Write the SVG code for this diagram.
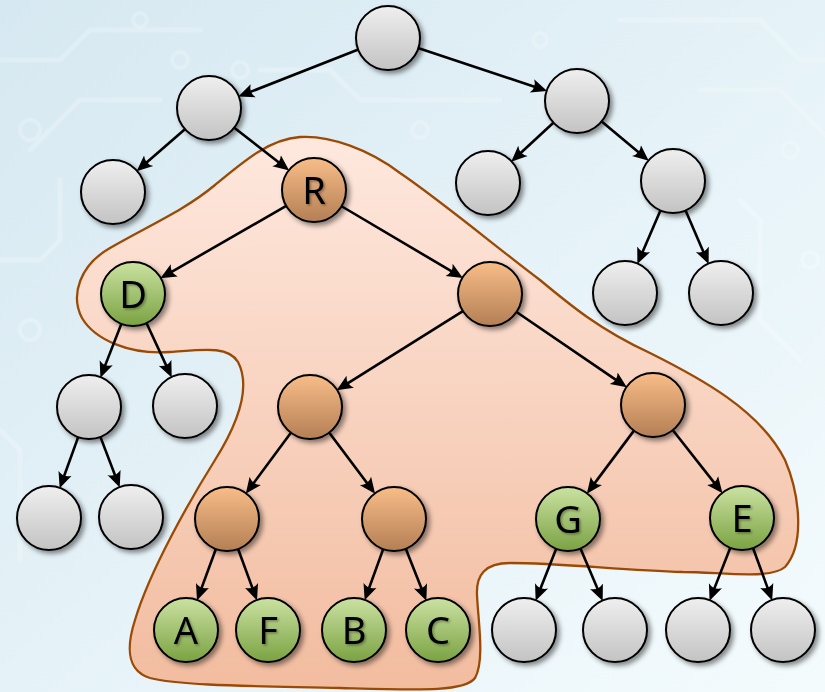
<svg xmlns="http://www.w3.org/2000/svg" width="825" height="692" viewBox="0 0 825 692">
<defs>
<linearGradient id="bg" x1="0" y1="0" x2="1" y2="1">
<stop offset="0" stop-color="#d6e8f1"/>
<stop offset="0.6" stop-color="#e8f4f9"/>
<stop offset="1" stop-color="#f4fbfd"/>
</linearGradient>
<linearGradient id="blob" x1="0" y1="0" x2="0" y2="1">
<stop offset="0" stop-color="#fee8de"/>
<stop offset="1" stop-color="#f2bc9f"/>
</linearGradient>
<linearGradient id="gGray" x1="0" y1="0" x2="0" y2="1">
<stop offset="0" stop-color="#efefef"/>
<stop offset="1" stop-color="#c3c3c3"/>
</linearGradient>
<linearGradient id="gOrange" x1="0" y1="0" x2="0" y2="1">
<stop offset="0" stop-color="#f8bd88"/>
<stop offset="1" stop-color="#b47f55"/>
</linearGradient>
<linearGradient id="gGreen" x1="0" y1="0" x2="0" y2="1">
<stop offset="0" stop-color="#cbe2a2"/>
<stop offset="1" stop-color="#7aa242"/>
</linearGradient>
<filter id="sh" x="-30%" y="-30%" width="170%" height="170%">
<feDropShadow dx="3" dy="3" stdDeviation="2.5" flood-color="#000" flood-opacity="0.45"/>
</filter>
<filter id="tsh" x="-30%" y="-30%" width="170%" height="170%">
<feDropShadow dx="1.5" dy="1.5" stdDeviation="1" flood-color="#000" flood-opacity="0.35"/>
</filter>
<marker id="arr" viewBox="0 -8 18 16" markerWidth="18" markerHeight="16" refX="5" refY="0" orient="auto" markerUnits="userSpaceOnUse">
<path d="M16,0 L0,-7 Q5,0 0,7 Z" fill="#000"/>
</marker>
<style>
.n circle{stroke:#000;stroke-width:2;filter:url(#sh)}
.gray circle{fill:url(#gGray)}
.orange circle{fill:url(#gOrange)}
.green circle{fill:url(#gGreen)}
.n text{font-family:"Noto Sans","Open Sans",sans-serif;font-size:38px;fill:#000;text-anchor:middle;filter:url(#tsh)}
#edges line{stroke:#000;stroke-width:2.6;marker-end:url(#arr)}
.ckt{fill:none;stroke:#ffffff;stroke-opacity:0.22;stroke-width:5;stroke-linecap:round;stroke-linejoin:round}
.ckc{fill:none;stroke:#ffffff;stroke-opacity:0.22;stroke-width:4}
</style>
</defs>
<rect width="825" height="692" fill="url(#bg)"/>
<g id="background-pattern">
<path class="ckt" d="M0,60 L60,60 L90,30 L200,30"/>
<path class="ckt" d="M30,150 L80,100 L160,100"/>
<path class="ckt" d="M0,260 L40,260 L60,240 L60,180"/>
<path class="ckt" d="M260,70 L330,70 L360,100 L500,100"/>
<path class="ckt" d="M620,20 L760,20 L800,60 L825,60"/>
<path class="ckt" d="M700,90 L780,90 L825,135"/>
<path class="ckt" d="M740,200 L760,220 L760,320 L800,360"/>
<path class="ckt" d="M0,430 L20,450 L20,560"/>
<circle class="ckc" cx="240" cy="70" r="8"/>
<circle class="ckc" cx="180" cy="60" r="8"/>
<circle class="ckc" cx="140" cy="20" r="7"/>
<circle class="ckc" cx="30" cy="130" r="10"/>
<circle class="ckc" cx="420" cy="130" r="8"/>
<circle class="ckc" cx="540" cy="40" r="7"/>
<circle class="ckc" cx="790" cy="150" r="8"/>
<circle class="ckc" cx="810" cy="260" r="8"/>
<circle class="ckc" cx="30" cy="330" r="10"/>
</g>
<path id="subtree" d="M300,137 C330,135 370,150 400,173 C440,200 500,250 540,280 C570,305 600,330 650,353 C700,378 760,410 785,460 C800,495 805,545 785,567 C770,580 720,572 683,572 C620,570 560,563 510,563 C485,563 476,575 477,595 C478,620 485,660 475,678 C465,692 420,690 340,688 C260,686 180,686 150,678 C125,670 127,645 135,620 C150,570 190,500 215,460 C240,420 250,385 238,362 C228,345 200,350 170,352 C130,355 95,340 82,318 C70,295 80,265 110,248 C150,225 185,210 215,185 C245,160 270,139 300,137 Z" fill="url(#blob)" stroke="#9a4a04" stroke-width="2.3"/>
<g id="edges">
<line x1="357.7" y1="49.8" x2="248.6" y2="92.6"/>
<line x1="418.8" y1="48.3" x2="536.7" y2="87.5"/>
<line x1="184.6" y1="129.4" x2="144.9" y2="164"/>
<line x1="234.6" y1="128" x2="280.5" y2="163.8"/>
<line x1="553.1" y1="123" x2="519.3" y2="154.2"/>
<line x1="602" y1="121.8" x2="640.3" y2="153.8"/>
<line x1="660.2" y1="210.9" x2="641.7" y2="253.9"/>
<line x1="685.8" y1="210.9" x2="704.3" y2="253.9"/>
<line x1="285.8" y1="206.2" x2="169.9" y2="272.8"/>
<line x1="342" y1="206.5" x2="453.4" y2="272.4"/>
<line x1="121.2" y1="324.3" x2="104.4" y2="367.4"/>
<line x1="146.7" y1="323.5" x2="167.1" y2="367.4"/>
<line x1="78" y1="437.6" x2="63.4" y2="478"/>
<line x1="100.6" y1="437.4" x2="115.8" y2="477.2"/>
<line x1="462.5" y1="311.3" x2="346" y2="384.4"/>
<line x1="516.9" y1="312.3" x2="617.8" y2="381.1"/>
<line x1="290.7" y1="433.1" x2="252.3" y2="484.9"/>
<line x1="329.5" y1="433" x2="368.5" y2="485"/>
<line x1="633.6" y1="431.1" x2="593.4" y2="484.9"/>
<line x1="673.1" y1="430.5" x2="715.7" y2="484.6"/>
<line x1="215.7" y1="549.5" x2="200.8" y2="590.1"/>
<line x1="238.3" y1="549.5" x2="253.2" y2="590.1"/>
<line x1="383" y1="549.6" x2="368.4" y2="590"/>
<line x1="406" y1="549.2" x2="422.3" y2="590.5"/>
<line x1="556" y1="549.2" x2="539.7" y2="590.5"/>
<line x1="580.7" y1="549" x2="598.4" y2="590.8"/>
<line x1="730.1" y1="548.3" x2="713.6" y2="590.4"/>
<line x1="753.2" y1="548.5" x2="768.4" y2="590.1"/>
</g>
<g id="n0" class="n gray"><circle cx="388" cy="38" r="32"/></g>
<g id="n1" class="n gray"><circle cx="209" cy="108" r="32"/></g>
<g id="n2" class="n gray"><circle cx="577" cy="101" r="32"/></g>
<g id="n3" class="n gray"><circle cx="113" cy="192" r="32"/></g>
<g id="nR" class="n orange"><circle cx="314" cy="190" r="32"/><text x="314" y="204">R</text></g>
<g id="n5" class="n gray"><circle cx="488" cy="183" r="32"/></g>
<g id="n6" class="n gray"><circle cx="673" cy="181" r="32"/></g>
<g id="nD" class="n green"><circle cx="133" cy="294" r="32"/><text x="133" y="308">D</text></g>
<g id="o1" class="n orange"><circle cx="490" cy="294" r="32"/></g>
<g id="n9" class="n gray"><circle cx="625" cy="293" r="32"/></g>
<g id="n10" class="n gray"><circle cx="721" cy="293" r="32"/></g>
<g id="n11" class="n gray"><circle cx="89" cy="407" r="32"/></g>
<g id="n12" class="n gray"><circle cx="185" cy="406" r="32"/></g>
<g id="o2" class="n orange"><circle cx="310" cy="407" r="32"/></g>
<g id="o3" class="n orange"><circle cx="653" cy="405" r="32"/></g>
<g id="n15" class="n gray"><circle cx="49" cy="518" r="32"/></g>
<g id="n16" class="n gray"><circle cx="131" cy="517" r="32"/></g>
<g id="o4" class="n orange"><circle cx="227" cy="519" r="32"/></g>
<g id="o5" class="n orange"><circle cx="394" cy="519" r="32"/></g>
<g id="nG" class="n green"><circle cx="568" cy="519" r="32"/><text x="568" y="533">G</text></g>
<g id="nE" class="n green"><circle cx="742" cy="518" r="32"/><text x="742" y="532">E</text></g>
<g id="nA" class="n green"><circle cx="186" cy="630" r="32"/><text x="186" y="644">A</text></g>
<g id="nF" class="n green"><circle cx="268" cy="630" r="32"/><text x="268" y="644">F</text></g>
<g id="nB" class="n green"><circle cx="354" cy="630" r="32"/><text x="354" y="644">B</text></g>
<g id="nC" class="n green"><circle cx="438" cy="630" r="32"/><text x="438" y="644">C</text></g>
<g id="n24" class="n gray"><circle cx="524" cy="630" r="32"/></g>
<g id="n25" class="n gray"><circle cx="615" cy="630" r="32"/></g>
<g id="n26" class="n gray"><circle cx="698" cy="630" r="32"/></g>
<g id="n27" class="n gray"><circle cx="783" cy="630" r="32"/></g>
</svg>
